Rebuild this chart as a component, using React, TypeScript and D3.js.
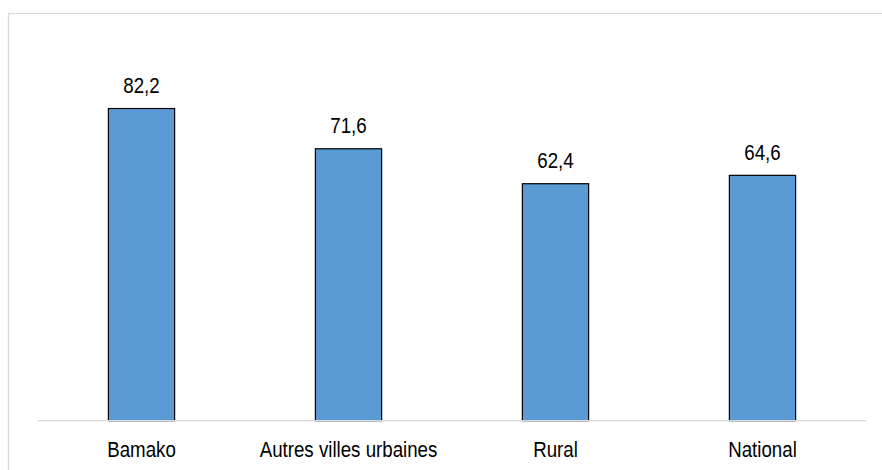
import React from "react";
import * as d3 from "d3";

const categories = ["Bamako", "Autres villes urbaines", "Rural", "National"];
const values = [82.2, 71.6, 62.4, 64.6];
const valueLabels = ["82,2", "71,6", "62,4", "64,6"];

const W = 882;
const H = 470;
const plotLeft = 38;
const plotRight = 866;
const baseY = 420.7;
const topY = 78.9;
const FONT = "'Liberation Sans', Arial, sans-serif";
const SX = 0.85;
const FS = 22;

export default function App() {
  const x = d3.scaleBand<string>().domain(categories).range([plotLeft, plotRight]).padding(0);
  const y = d3.scaleLinear().domain([0, 90]).range([baseY, topY]);
  const barW = x.bandwidth() * 0.32;

  return (
    <svg
      width={W}
      height={H}
      style={{ position: "fixed", left: 0, top: 0, background: "#fff" }}
    >
      <rect x={0} y={0} width={W} height={H} fill="#fff" />
      <rect x={8.5} y={13.5} width={W + 20} height={H + 20} fill="none" stroke="#D9D9D9" strokeWidth={1.3} />
      {categories.map((c, i) => {
        const cx = (x(c) as number) + x.bandwidth() / 2;
        return (
          <g key={c}>
            <rect
              x={cx - barW / 2}
              y={y(values[i])}
              width={barW}
              height={baseY - y(values[i])}
              fill="#5B9BD5"
              stroke="#000"
              strokeWidth={1.2}
            />
            <text
              transform={`translate(${cx},${y(values[i]) - 15.5}) scale(${SX},1)`}
              textAnchor="middle"
              fontFamily={FONT}
              fontSize={FS}
              fill="#000"
            >
              {valueLabels[i]}
            </text>
            <text
              transform={`translate(${cx},${457}) scale(${SX},1)`}
              textAnchor="middle"
              fontFamily={FONT}
              fontSize={FS}
              fill="#000"
            >
              {c}
            </text>
          </g>
        );
      })}
      <line x1={plotLeft} x2={plotRight} y1={baseY} y2={baseY} stroke="#D9D9D9" strokeWidth={1.3} />
    </svg>
  );
}
